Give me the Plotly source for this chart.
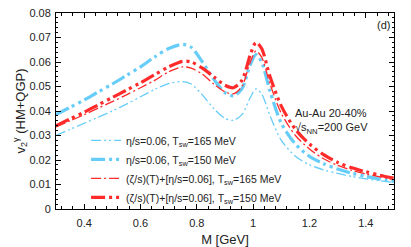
import plotly.graph_objects as go

M = [0.30, 0.35, 0.40, 0.45, 0.50, 0.55, 0.60, 0.65, 0.70, 0.75, 0.78, 0.82, 0.86, 0.90, 0.93, 0.96, 0.99, 1.01, 1.03, 1.06, 1.10, 1.15, 1.20, 1.25, 1.30, 1.35, 1.40, 1.45, 1.50]

v2_eta_165 = [0.0300, 0.0325, 0.0350, 0.0375, 0.0400, 0.0428, 0.0458, 0.0488, 0.0512, 0.0520, 0.0510, 0.0465, 0.0410, 0.0370, 0.0362, 0.0385, 0.0455, 0.0490, 0.0470, 0.0380, 0.0280, 0.0215, 0.0180, 0.0160, 0.0145, 0.0133, 0.0123, 0.0115, 0.0108]
v2_eta_150 = [0.0385, 0.0415, 0.0445, 0.0478, 0.0510, 0.0545, 0.0580, 0.0620, 0.0655, 0.0672, 0.0660, 0.0600, 0.0530, 0.0475, 0.0462, 0.0490, 0.0590, 0.0630, 0.0600, 0.0480, 0.0350, 0.0265, 0.0215, 0.0185, 0.0163, 0.0146, 0.0133, 0.0122, 0.0113]
v2_zeta_165 = [0.0335, 0.0360, 0.0385, 0.0412, 0.0438, 0.0466, 0.0495, 0.0525, 0.0560, 0.0580, 0.0575, 0.0550, 0.0510, 0.0478, 0.0470, 0.0500, 0.0600, 0.0645, 0.0620, 0.0510, 0.0390, 0.0300, 0.0245, 0.0205, 0.0178, 0.0158, 0.0143, 0.0131, 0.0120]
v2_zeta_150 = [0.0340, 0.0368, 0.0395, 0.0425, 0.0455, 0.0485, 0.0515, 0.0548, 0.0580, 0.0603, 0.0600, 0.0575, 0.0540, 0.0505, 0.0495, 0.0525, 0.0630, 0.0680, 0.0655, 0.0540, 0.0420, 0.0325, 0.0265, 0.0222, 0.0190, 0.0168, 0.0152, 0.0138, 0.0126]

names = [
    "η/s=0.06, T<sub>sw</sub>=165 MeV",
    "η/s=0.06, T<sub>sw</sub>=150 MeV",
    "(ζ/s)(T)+[η/s=0.06], T<sub>sw</sub>=165 MeV",
    "(ζ/s)(T)+[η/s=0.06], T<sub>sw</sub>=150 MeV",
]
series = [v2_eta_165, v2_eta_150, v2_zeta_165, v2_zeta_150]
colors = ["#66ccf8", "#66ccf8", "#ff2a2a", "#ff2a2a"]
widths = [1.3, 3.2, 1.3, 3.2]
dashes = ["10px,3px,2px,3px,2px,3px", "14px,4px,3px,4px,3px,4px",
          "10px,3px,2px,3px", "14px,4px,3px,4px,3px,4px"]

fig = go.Figure()
for y, n, c, w, d in zip(series, names, colors, widths, dashes):
    fig.add_trace(go.Scatter(x=M, y=y, mode="lines", name=n,
                             line=dict(color=c, width=w, dash=d, shape="spline", smoothing=0.8)))

font = dict(family="Liberation Sans, Arial, sans-serif", size=11, color="#222")

fig.update_layout(
    width=411, height=247,
    margin=dict(l=56, r=17, t=13, b=38, autoexpand=False),
    paper_bgcolor="white", plot_bgcolor="white",
    font=font,
    showlegend=True,
    legend=dict(x=0.089, y=-0.015, xanchor="left", yanchor="bottom",
                bgcolor="rgba(0,0,0,0)", font=dict(size=10.5, color="#222"),
                itemwidth=30, tracegroupgap=0),
    xaxis=dict(range=[0.3, 1.5], tick0=0.4, dtick=0.2, ticks="inside", ticklen=5,
               showline=True, linecolor="black", linewidth=1, mirror="ticks",
               showgrid=False, zeroline=False, tickcolor="black", automargin=False,
               minor=dict(dtick=0.04, ticks="inside", ticklen=3, tickcolor="black"),
               ticklabelstandoff=4,
               title=dict(text="M [GeV]", standoff=8), tickfont=dict(size=11)),
    yaxis=dict(range=[0, 0.08], dtick=0.01, ticks="inside", ticklen=5,
               showline=True, linecolor="black", linewidth=1, mirror="ticks",
               showgrid=False, zeroline=False, tickcolor="black", automargin=False,
               minor=dict(dtick=0.002, ticks="inside", ticklen=2, tickcolor="black"),
               ticklabelstandoff=2,
               title=dict(text="v<sub>2</sub><sup>γ</sup> (HM+QGP)", standoff=0),
               tickfont=dict(size=11)),
    annotations=[
        dict(text="Au-Au 20-40%<br>√s<sub>NN</sub>=200 GeV", x=0.70, y=0.448,
             xref="paper", yref="paper", xanchor="left", yanchor="middle",
             showarrow=False, align="left", font=dict(size=11, color="#222")),
        dict(text="(d)", x=0.995, y=0.94, xref="paper", yref="paper",
             xanchor="right", yanchor="middle", showarrow=False,
             font=dict(size=11, color="#222")),
    ],
)

fig.write_html("out.html", config={"displayModeBar": False},
               post_script="document.body.style.margin='0px';document.body.style.overflow='hidden';")
